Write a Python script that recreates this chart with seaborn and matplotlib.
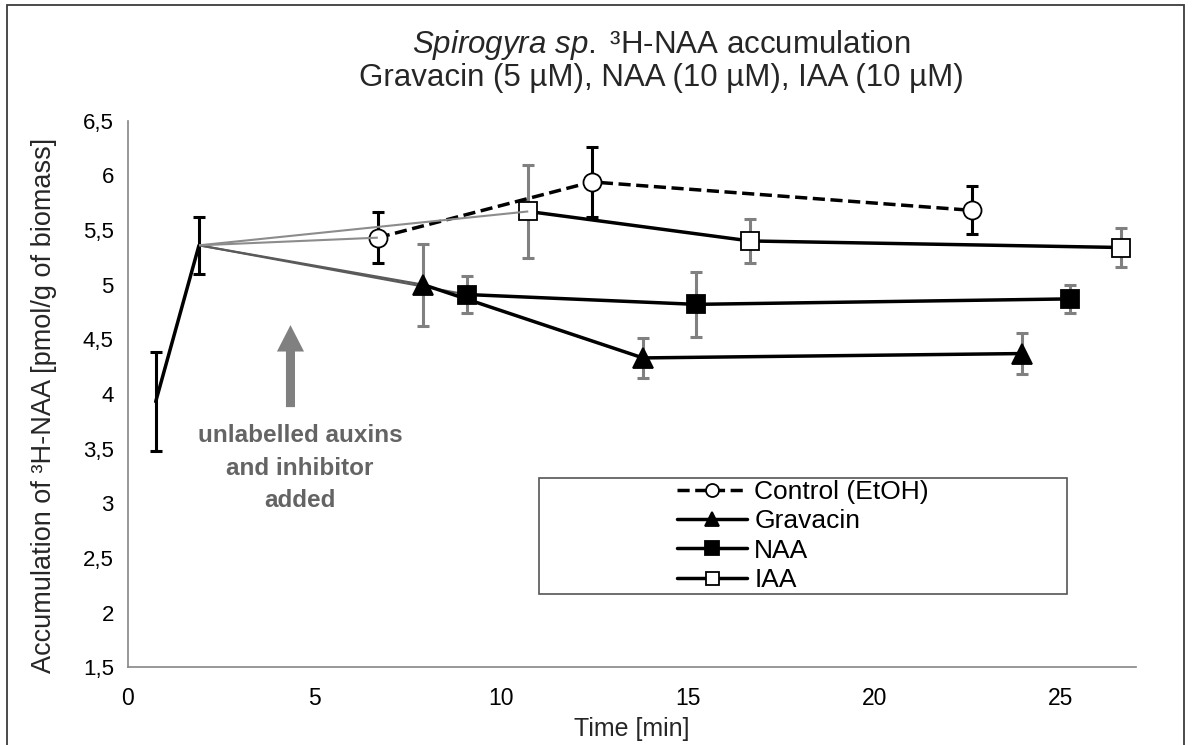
import matplotlib
matplotlib.use("Agg")
import matplotlib.pyplot as plt
from matplotlib.patches import Rectangle
import seaborn as sns

# Uptake before the treatments were added
start_time = [0.75, 1.91]
start_mean = [3.93, 5.36]
start_err = [0.45, 0.26]

# Treatments (time in min, mean accumulation, error)
control_time = [6.70, 12.43, 22.61]
control_mean = [5.43, 5.94, 5.68]
control_err = [0.235, 0.32, 0.22]

gravacin_time = [7.92, 13.80, 23.96]
gravacin_mean = [5.00, 4.33, 4.37]
gravacin_err = [0.375, 0.185, 0.19]

naa_time = [9.08, 15.22, 25.24]
naa_mean = [4.91, 4.82, 4.87]
naa_err = [0.17, 0.295, 0.13]

iaa_time = [10.73, 16.67, 26.61]
iaa_mean = [5.67, 5.40, 5.34]
iaa_err = [0.425, 0.20, 0.175]

series_labels = ["Control (EtOH)", "Gravacin", "NAA", "IAA"]
x_ticks = [0, 5, 10, 15, 20, 25]
y_ticks = [1.5, 2, 2.5, 3, 3.5, 4, 4.5, 5, 5.5, 6, 6.5]
y_tick_labels = ["1,5", "2", "2,5", "3", "3,5", "4", "4,5", "5", "5,5", "6", "6,5"]

sns.set_theme(style="white")
plt.rcParams["font.family"] = ["Liberation Sans", "DejaVu Sans"]
plt.rcParams["mathtext.fontset"] = "custom"
plt.rcParams["mathtext.rm"] = "Liberation Sans"
plt.rcParams["mathtext.it"] = "Liberation Sans:italic"

W, H = 1192, 745
fig = plt.figure(figsize=(W / 100, H / 100), dpi=100)
ax_l, ax_r, ax_t, ax_b = 127.7, 1135.7, 120.7, 667.3
ax = fig.add_axes([ax_l / W, 1 - ax_b / H, (ax_r - ax_l) / W, (ax_b - ax_t) / H])

BLACK = "black"
GREY_BAR = "#808080"
LW = 2.5
ERR_KW = dict(fmt="none", elinewidth=2.2, capsize=4.5, capthick=2.2)

# initial phase
sns.lineplot(x=start_time, y=start_mean, color=BLACK, linewidth=LW, ax=ax,
             errorbar=None, zorder=3)
ax.errorbar(start_time, start_mean, yerr=start_err, ecolor=BLACK, zorder=2, **ERR_KW)

branch_x, branch_y = start_time[-1], start_mean[-1]

treatments = [
    (control_time, control_mean, control_err, "o", "white", (0, (3.5, 1.6)), BLACK, "#8c8c8c", 6, 13),
    (gravacin_time, gravacin_mean, gravacin_err, "^", BLACK, "-", GREY_BAR, "#5a5a5a", 2.5, 14),
    (naa_time, naa_mean, naa_err, "s", BLACK, "-", GREY_BAR, "#5a5a5a", 2.5, 13.5),
    (iaa_time, iaa_mean, iaa_err, "s", "white", "-", GREY_BAR, "#8c8c8c", 6, 13),
]

handles = []
for (t, m, e, mk, mfc, ls, ecol, ccol, cz, ms), lab in zip(treatments, series_labels):
    # thin connector from the last pre-treatment point
    ax.plot([branch_x, t[0]], [branch_y, m[0]], color=ccol, linewidth=1.5, zorder=cz,
            solid_capstyle="butt")
    ax.errorbar(t, m, yerr=e, ecolor=ecol, zorder=2, **ERR_KW)
    sns.lineplot(x=t, y=m, color=BLACK, linewidth=LW, linestyle=ls, marker=mk,
                 markersize=ms, markerfacecolor=mfc, markeredgecolor=BLACK,
                 markeredgewidth=1.3, errorbar=None, ax=ax, zorder=4, label=lab)
    handles.append(ax.lines[-1])

ax.set_xlim(0, 27)
ax.set_ylim(1.5, 6.5)
ax.set_xticks(x_ticks)
ax.set_xticklabels([str(v) for v in x_ticks], fontsize=16.5)
ax.set_yticks(y_ticks)
ax.set_yticklabels(y_tick_labels, fontsize=16)
ax.tick_params(axis="x", direction="out", length=6, width=1, color="#868686", pad=8)
ax.tick_params(axis="y", direction="out", length=6, width=1, color="#868686", pad=4)
ax.tick_params(axis="both", labelcolor="black")
for side in ("top", "right"):
    ax.spines[side].set_visible(False)
for side in ("left", "bottom"):
    ax.spines[side].set_color("#868686")
    ax.spines[side].set_linewidth(1.2)
ax.set_xlabel("")
ax.set_ylabel("")

# annotation of the treatment time
ax.annotate("", xy=(4.36, 4.63), xytext=(4.36, 3.88),
            arrowprops=dict(facecolor="#808080", edgecolor="none", width=6.5,
                            headwidth=19.5, headlength=19, shrink=0))
ax.text(4.62, 3.32, "unlabelled auxins\nand inhibitor\nadded", ha="center", va="center",
        fontsize=17.5, fontweight="bold", color="#646464", linespacing=1.52)

# legend inside a wide box
def ax_frac(px, py):
    return (px - ax_l) / (ax_r - ax_l), (ax_b - py) / (ax_b - ax_t)

x0, y0 = ax_frac(539, 594)
x1, y1 = ax_frac(1067, 478)
ax.add_patch(Rectangle((x0, y0), x1 - x0, y1 - y0, transform=ax.transAxes,
                       facecolor="white", edgecolor="#555555", linewidth=1.2,
                       zorder=5, clip_on=False))
leg = ax.legend(handles=handles, labels=series_labels, loc="center",
                bbox_to_anchor=((x0 + x1) / 2, (y0 + y1) / 2), frameon=False,
                fontsize=19, handlelength=2.65, handletextpad=0.27, labelspacing=0.2,
                borderpad=0, markerscale=0.72)
leg.set_zorder(6)
for txt in leg.get_texts():
    txt.set_color("black")

# titles and axis labels
fig.text(661 / W, 1 - 45 / H, r"$\mathit{Spirogyra\ sp.}$ ³H-NAA accumulation",
         ha="center", va="center", fontsize=22.5)
fig.text(661 / W, 1 - 78 / H, "Gravacin (5 µM), NAA (10 µM), IAA (10 µM)",
         ha="center", va="center", fontsize=22.5)
fig.text(632 / W, 1 - 729 / H, "Time [min]", ha="center", va="center", fontsize=18)
fig.text(44 / W, 1 - 405 / H, "Accumulation of ³H-NAA [pmol/g of biomass]",
         ha="center", va="center", rotation=90, fontsize=19.5)

# outer frame of the figure
fig.patches.append(Rectangle((6.5 / W, -0.05), (1184 - 6.5) / W, 1.05 - 5 / H,
                             transform=fig.transFigure, facecolor="none",
                             edgecolor="#3c3c3c", linewidth=1.3))

fig.savefig("out.png", dpi=100)
